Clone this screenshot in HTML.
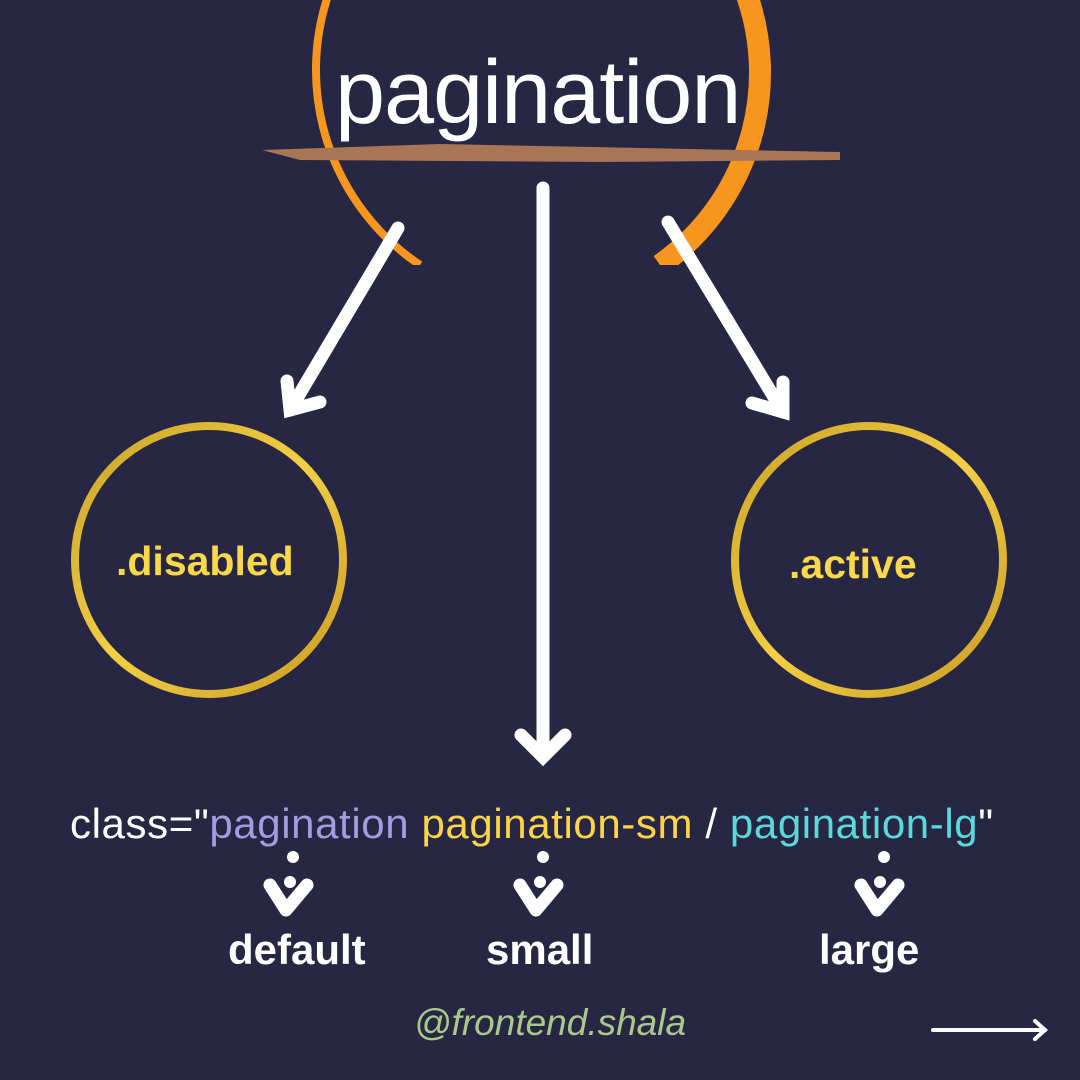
<html><head><style>
body{margin:0;background:#272743;}
.t{position:absolute;font-family:"Liberation Sans",sans-serif;}
</style></head><body>
<div style="position:relative;width:1080px;height:1080px;overflow:hidden;background:#272743">
<svg width="1080" height="1080" style="position:absolute;left:0;top:0">
<defs><clipPath id="c"><rect x="0" y="0" width="1080" height="265"/></clipPath>
<linearGradient id="g" x1="0" y1="0" x2="1" y2="1"><stop offset="0" stop-color="#c9a227"/><stop offset="0.5" stop-color="#f2cf45"/><stop offset="1" stop-color="#c99a22"/></linearGradient></defs>
<g clip-path="url(#c)" fill="none" stroke="#f7961e">
<path d="M420 265 A235 235 0 0 1 330 -10" stroke-width="8"/>
<path d="M660 265 A235 235 0 0 0 745 -10" stroke-width="22"/>
</g>
<path d="M262 150 L440 144 L840 152 L840 160 L600 162 L300 160 Z" fill="#a87555"/>
<g stroke="#fff" stroke-width="13" stroke-linecap="round" fill="none">
<line x1="543" y1="188" x2="543" y2="755"/><polyline points="521,735 543,757 565,735"/>
<line x1="398" y1="228" x2="290" y2="410"/><polyline points="287,381 290,410 320,402"/>
<line x1="668" y1="222" x2="783" y2="412"/><polyline points="752,403 783,412 783,382"/>
<line x1="933" y1="1030" x2="1045" y2="1030" stroke-width="4"/><polyline points="1035,1021 1045,1030 1035,1039" stroke-width="4"/>
</g>
<circle cx="209" cy="560" r="134" fill="none" stroke="url(#g)" stroke-width="8"/>
<circle cx="869" cy="560" r="134" fill="none" stroke="url(#g)" stroke-width="8"/>
<g fill="#fff">
<circle cx="293" cy="857" r="6"/><circle cx="543" cy="857" r="6"/><circle cx="884" cy="857" r="6"/>
<circle cx="290" cy="882" r="6"/><circle cx="540" cy="882" r="6"/><circle cx="880" cy="882" r="6"/>
</g>
<g stroke="#fff" stroke-width="13" stroke-linecap="round" stroke-linejoin="round" fill="none">
<polyline points="270,885 286,910 307,885"/><polyline points="520,885 536,910 557,885"/><polyline points="861,885 877,910 898,885"/>
</g>
</svg>
<div class="t" style="left:335px;top:42px;font-size:90px;color:#fff;letter-spacing:-1px">pagination</div>
<div class="t" style="left:116px;top:538px;font-size:41px;font-weight:bold;color:#f9d84a">.disabled</div>
<div class="t" style="left:789px;top:541px;font-size:41px;font-weight:bold;color:#f9d84a">.active</div>
<div class="t" style="left:70px;top:800px;font-size:42px;white-space:nowrap;letter-spacing:0.6px"><span style="color:#fff">class="</span><span style="color:#a49be0">pagination</span> <span style="color:#fcd546">pagination-sm</span> <span style="color:#fff">/</span> <span style="color:#5ad9dc">pagination-lg</span><span style="color:#fff">"</span></div>
<div class="t" style="left:228px;top:926px;font-size:42px;font-weight:bold;color:#fff">default</div>
<div class="t" style="left:486px;top:926px;font-size:42px;font-weight:bold;color:#fff">small</div>
<div class="t" style="left:819px;top:926px;font-size:42px;font-weight:bold;color:#fff">large</div>
<div class="t" style="left:414px;top:1002px;font-size:37px;color:#a9c98a;font-style:italic">@frontend.shala</div>
</div>
</body></html>
